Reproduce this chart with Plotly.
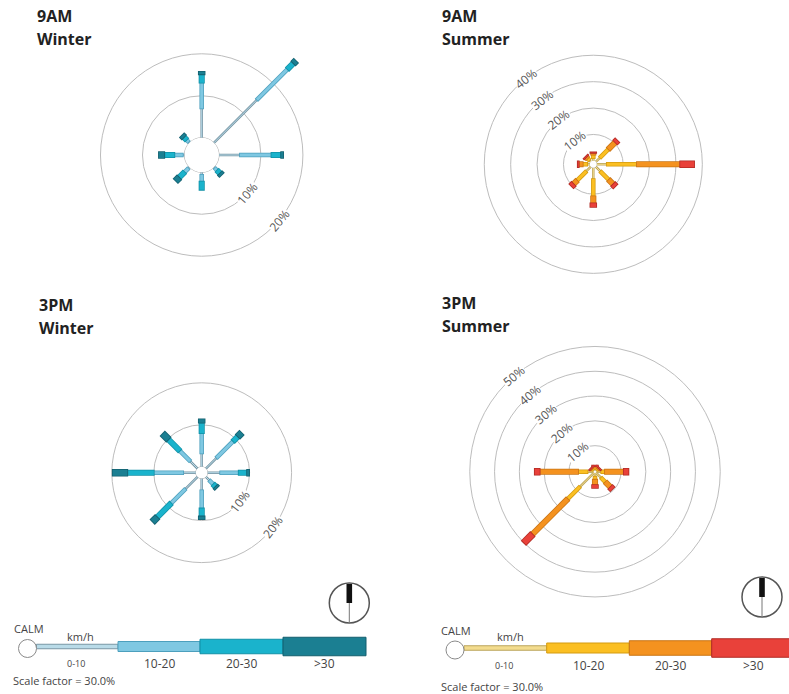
import numpy as np
import plotly.graph_objects as go

W, H = 789, 694

# ---------------- data ----------------
directions = ["N", "NE", "E", "SE", "S", "SW", "W", "NW"]
bearings = [0, 45, 90, 135, 180, 225, 270, 315]
speed_classes = ["0-10", "10-20", "20-30", ">30"]

# frequencies (%) per direction, order N, NE, E, SE, S, SW, W, NW
am_winter_0_10 = [7.0, 14.5, 5.0, 0.3, 0.6, 0.4, 0.4, 0.3]
am_winter_10_20 = [6.1, 10.3, 7.5, 0.8, 1.6, 1.3, 2.0, 0.7]
am_winter_20_30 = [2.0, 2.0, 2.3, 1.0, 2.0, 1.8, 2.4, 0.9]
am_winter_30 = [0.6, 0.8, 0.5, 0.5, 0.0, 1.1, 1.3, 0.6]

am_summer_0_10 = [1.0, 2.3, 3.8, 2.5, 4.3, 2.5, 1.0, 0.8]
am_summer_10_20 = [1.3, 4.5, 11.4, 4.5, 6.5, 4.9, 1.7, 1.0]
am_summer_20_30 = [0.7, 3.7, 16.4, 2.4, 2.7, 1.9, 1.5, 0.7]
am_summer_30 = [0.2, 1.0, 5.3, 1.1, 1.4, 1.1, 0.4, 0.3]

pm_winter_0_10 = [3.2, 3.6, 3.0, 1.2, 2.8, 4.1, 3.0, 2.5]
pm_winter_10_20 = [4.8, 5.6, 4.4, 1.3, 4.3, 4.8, 7.0, 3.5]
pm_winter_20_30 = [2.5, 1.6, 2.0, 0.8, 1.9, 4.7, 6.3, 3.8]
pm_winter_30 = [0.8, 1.2, 0.5, 0.4, 0.7, 1.5, 3.5, 1.9]

pm_summer_0_10 = [0.6, 0.5, 2.0, 3.0, 1.5, 8.1, 2.5, 0.5]
pm_summer_10_20 = [0.6, 0.5, 1.5, 2.5, 1.2, 7.0, 3.8, 0.5]
pm_summer_20_30 = [0.5, 0.5, 7.6, 2.8, 2.2, 20.1, 15.5, 0.4]
pm_summer_30 = [0.3, 0.3, 1.9, 1.1, 1.2, 4.8, 2.0, 0.3]

calm_am_winter = 4.1
calm_am_summer = 1.3
calm_pm_winter = 1.4
calm_pm_summer = 0.5

rings_winter = [10, 20]
rings_am_summer = [10, 20, 30, 40]
rings_pm_summer = [10, 20, 30, 40, 50]

scale_factor_text = "Scale factor = 30.0%"

# ---------------- style ----------------
winter_colors = ["#b9dbe8", "#7fc8e2", "#1ab3cc", "#1b7f92"]
winter_edges = ["#7896a4", "#4c9fbd", "#1190a6", "#135f6e"]
summer_colors = ["#f3dc8e", "#fbbf22", "#f4921f", "#e9413a"]
summer_edges = ["#bba55c", "#d49b10", "#c97415", "#b02b24"]
core_w = [1.0, 3.0, 4.6, 6.0]
FONT = "Open Sans"

def px(x):
    return x / W

def py(y):
    return 1 - y / H

panels = [
    dict(key="polar", t1="9AM", t2="Winter", tx=35, ty=16, data=[am_winter_0_10, am_winter_10_20, am_winter_20_30, am_winter_30],
         calm=calm_am_winter, colors=winter_colors, edges=winter_edges, cx=201.7, cy=155.0, k=4.2, R=140,
         rings=rings_winter, lab_b=130),
    dict(key="polar2", t1="9AM", t2="Summer", tx=440, ty=16, data=[am_summer_0_10, am_summer_10_20, am_summer_20_30, am_summer_30],
         calm=calm_am_summer, colors=summer_colors, edges=summer_edges, cx=593.3, cy=164.3, k=2.64, R=114,
         rings=rings_am_summer, lab_b=322),
    dict(key="polar3", t1="3PM", t2="Winter", tx=37, ty=305, data=[pm_winter_0_10, pm_winter_10_20, pm_winter_20_30, pm_winter_30],
         calm=calm_pm_winter, colors=winter_colors, edges=winter_edges, cx=201.7, cy=472.7, k=4.2, R=95,
         rings=rings_winter, lab_b=127),
    dict(key="polar4", t1="3PM", t2="Summer", tx=440, ty=303, data=[pm_summer_0_10, pm_summer_10_20, pm_summer_20_30, pm_summer_30],
         calm=calm_pm_summer, colors=summer_colors, edges=summer_edges, cx=595.0, cy=471.7, k=2.48, R=128,
         rings=rings_pm_summer, lab_b=320),
]

fig = go.Figure()
annotations = []
shapes = []
layout_polars = {}

for p in panels:
    key = p["key"]
    k, R = p["k"], p["R"]
    calm_px = p["calm"] * k
    rmax = (R - calm_px) / k
    cx, cy = p["cx"], p["cy"]
    layout_polars[key] = dict(
        domain=dict(x=[px(cx - R), px(cx + R)], y=[py(cy + R), py(cy - R)]),
        hole=calm_px / R,
        bgcolor="rgba(0,0,0,0)",
        radialaxis=dict(range=[0, rmax], tickvals=p["rings"], showticklabels=False, ticks="",
                        showline=False, gridcolor="#bdbdbd", gridwidth=1),
        angularaxis=dict(direction="clockwise", rotation=90, showgrid=False, showline=False,
                         showticklabels=False, ticks=""),
    )
    # calm circle
    th = list(range(0, 361, 4))
    fig.add_trace(go.Scatterpolar(r=[0] * len(th), theta=th, mode="lines", subplot=key,
                                  line=dict(color="#a9a9a9", width=1), hoverinfo="skip", showlegend=False))
    data = np.array(p["data"], dtype=float)
    cum = np.vstack([np.zeros(len(bearings)), np.cumsum(data, axis=0)])
    delta = 0.8 / k
    for i in range(4):
        r_fill, r_edge, t_all = [], [], []
        for j, b in enumerate(bearings):
            s, e = cum[i, j], cum[i + 1, j]
            if e - s <= 0:
                continue
            r_fill += [s, e, None]
            r_edge += [max(s - delta, 0) if i > 0 else s, e + delta, None]
            t_all += [b, b, None]
        fig.add_trace(go.Scatterpolar(r=r_edge, theta=t_all, mode="lines", subplot=key,
                                      line=dict(color=p["edges"][i], width=core_w[i] + 1.5),
                                      hoverinfo="skip", showlegend=False))
        fig.add_trace(go.Scatterpolar(r=r_fill, theta=t_all, mode="lines", subplot=key,
                                      line=dict(color=p["colors"][i], width=core_w[i]),
                                      name=speed_classes[i], showlegend=False))
    # ring labels
    b = p["lab_b"]
    a = (-b) % 180
    if a > 90:
        a -= 180
    for v in p["rings"]:
        rad = calm_px + v * k
        x = cx + rad * np.sin(np.radians(b))
        y = cy - rad * np.cos(np.radians(b))
        annotations.append(dict(x=px(x), y=py(y), xref="paper", yref="paper", text=f"{v}%",
                                showarrow=False, textangle=-a, bgcolor="white", borderpad=0,
                                font=dict(family=FONT, size=12, color="#555555"),
                                xanchor="center", yanchor="middle"))
    # titles
    for txt, dy in ((p["t1"], 0), (p["t2"], 23)):
        annotations.append(dict(x=px(p["tx"]), y=py(p["ty"] + dy), xref="paper", yref="paper", text=f"<b>{txt}</b>",
                                showarrow=False, xanchor="left", yanchor="middle",
                                font=dict(family=FONT, size=16, color="#222222")))

# ---------------- legends ----------------
def add_legend(calm_c, bar_cy, xs, colors, edges, lab_y, calm_lab, kmh_xy, sf_xy, compass):
    heights = [4.5, 10, 14.5, 18.5]
    ccx, ccy = calm_c
    for i in range(4):
        h = heights[i]
        shapes.append(dict(type="rect", xref="paper", yref="paper", x0=px(xs[i]), x1=px(xs[i + 1]),
                           y0=py(bar_cy + h / 2), y1=py(bar_cy - h / 2),
                           fillcolor=colors[i], line=dict(color=edges[i], width=1)))
    shapes.append(dict(type="circle", xref="paper", yref="paper", x0=px(ccx - 9), x1=px(ccx + 9),
                       y0=py(ccy + 9), y1=py(ccy - 9), fillcolor="white", line=dict(color="#8a8a8a", width=1)))
    annotations.append(dict(x=px(calm_lab[0]), y=py(calm_lab[1]), xref="paper", yref="paper", text="CALM",
                            showarrow=False, font=dict(family=FONT, size=11, color="#444"), xanchor="center", yanchor="middle"))
    annotations.append(dict(x=px(kmh_xy[0]), y=py(kmh_xy[1]), xref="paper", yref="paper", text="km/h",
                            showarrow=False, font=dict(family=FONT, size=11, color="#444"), xanchor="center", yanchor="middle"))
    for i, lab in enumerate(speed_classes):
        xc = (xs[i] + xs[i + 1]) / 2 if i > 0 else xs[0] + 0.48 * (xs[1] - xs[0])
        annotations.append(dict(x=px(xc), y=py(lab_y), xref="paper", yref="paper", text=lab, showarrow=False,
                                font=dict(family=FONT, size=9 if i == 0 else 12, color="#444"),
                                xanchor="center", yanchor="middle"))
    annotations.append(dict(x=px(sf_xy[0]), y=py(sf_xy[1]), xref="paper", yref="paper", text=scale_factor_text,
                            showarrow=False, font=dict(family=FONT, size=11, color="#444"), xanchor="left", yanchor="middle"))
    # north indicator
    ox, oy = compass
    r = 20
    shapes.append(dict(type="circle", xref="paper", yref="paper", x0=px(ox - r), x1=px(ox + r),
                       y0=py(oy + r), y1=py(oy - r), line=dict(color="#555", width=1.5)))
    shapes.append(dict(type="rect", xref="paper", yref="paper", x0=px(ox - 2.8), x1=px(ox + 2.8),
                       y0=py(oy), y1=py(oy - r + 1), fillcolor="#111", line=dict(width=0)))
    shapes.append(dict(type="line", xref="paper", yref="paper", x0=px(ox), x1=px(ox),
                       y0=py(oy + r), y1=py(oy), line=dict(color="#777", width=1)))

add_legend((27.5, 648.5), 646.5, [36.5, 118, 200, 283, 366], winter_colors, winter_edges, 663.5,
           (29, 628), (80, 636), (11, 680.5), (349.3, 603))
add_legend((455, 650), 648, [464, 546.7, 629.3, 711.7, 795], summer_colors, summer_edges, 665,
           (456, 630), (510, 636), (439, 686), (762, 597))

fig.update_layout(
    width=W, height=H, autosize=False,
    margin=dict(l=0, r=0, t=0, b=0),
    paper_bgcolor="white", plot_bgcolor="white",
    showlegend=False,
    annotations=annotations, shapes=shapes,
    font=dict(family=FONT),
    **layout_polars,
)

fig.write_html("out.html", config={"displayModeBar": False},
               post_script="document.body.style.margin='0';document.body.style.overflow='hidden';")
